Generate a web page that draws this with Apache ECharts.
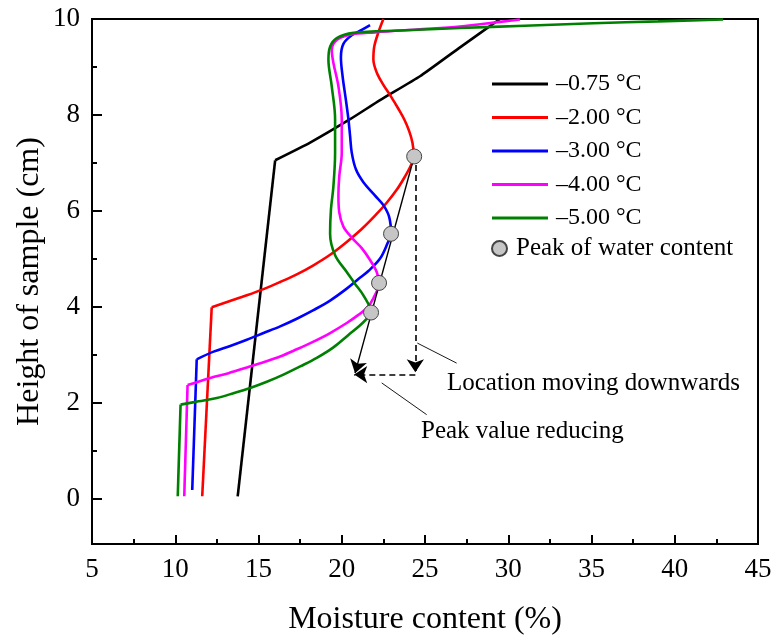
<!DOCTYPE html>
<html>
<head>
<meta charset="utf-8">
<script src="https://cdn.jsdelivr.net/npm/echarts@6/dist/echarts.min.js"></script>
<style>html,body{margin:0;padding:0;background:#fff}#c{width:778px;height:641px}</style>
</head>
<body>
<div id="c"></div>
<script>
// ---- data ----
const seriesNames = ['\u20130.75 \u00B0C', '\u20132.00 \u00B0C', '\u20133.00 \u00B0C', '\u20134.00 \u00B0C', '\u20135.00 \u00B0C'];
const peakName = 'Peak of water content';
// [moisture %, height cm]
const t075 = [[13.75,0],[16.0,7.04],[18.1,7.41],[20.5,7.9],[22.3,8.3],[24.7,8.8],[27.0,9.38],[29.5,10]];
const t200 = [[11.62,0],[12.19,3.96],[13.2,4.08],[14.3,4.21],[15.3,4.34],[16.3,4.49],[17.3,4.65],[18.3,4.84],[19.3,5.06],[20.3,5.33],[21.2,5.6],[22.0,5.88],[22.7,6.15],[23.3,6.42],[23.8,6.7],[24.15,6.93],[24.33,7.12],[24.25,7.4],[24.05,7.65],[23.75,7.9],[23.4,8.12],[22.95,8.38],[22.5,8.62],[22.1,8.88],[21.9,9.15],[21.95,9.42],[22.2,9.72],[22.5,10]];
const t300 = [[11.02,0.13],[11.29,2.87],[12.3,3.03],[13.3,3.15],[14.3,3.28],[15.3,3.42],[16.3,3.56],[17.3,3.72],[18.3,3.9],[19.3,4.1],[20.3,4.35],[21.0,4.55],[21.6,4.72],[22.3,4.98],[22.75,5.3],[22.96,5.5],[22.85,5.85],[22.5,6.1],[22.0,6.3],[21.3,6.58],[20.85,6.85],[20.6,7.2],[20.5,7.55],[20.4,7.9],[20.25,8.3],[20.05,8.8],[19.95,9.2],[20.1,9.48],[20.6,9.66],[21.2,9.77],[21.7,9.87]];
const t400 = [[10.54,0],[10.74,2.33],[12.1,2.48],[13.2,2.58],[14.3,2.7],[15.3,2.81],[16.3,2.93],[17.3,3.08],[18.3,3.24],[19.3,3.42],[20.3,3.63],[21.0,3.8],[21.5,3.94],[21.9,4.15],[22.24,4.47],[22.1,4.7],[21.7,4.95],[21.2,5.2],[20.6,5.42],[20.1,5.65],[19.85,5.95],[19.8,6.3],[19.85,6.7],[20.0,7.2],[20.0,7.9],[19.8,8.59],[19.5,9.08],[19.4,9.35],[19.7,9.56],[20.5,9.67],[22.0,9.72],[24.5,9.78],[27.1,9.84],[29.5,9.94],[30.7,9.99]];
const t500 = [[10.15,0],[10.32,1.92],[11.4,1.99],[12.5,2.06],[13.5,2.16],[14.5,2.27],[15.5,2.4],[16.5,2.55],[17.5,2.72],[18.5,2.9],[19.5,3.12],[20.4,3.38],[21.0,3.55],[21.45,3.7],[21.76,3.85],[21.3,4.21],[20.8,4.45],[20.3,4.7],[19.6,5.05],[19.3,5.5],[19.35,6.0],[19.5,6.5],[19.6,7.2],[19.6,7.9],[19.4,8.59],[19.2,9.15],[19.3,9.42],[19.7,9.6],[20.7,9.71],[23.5,9.76],[27.1,9.81],[31.0,9.86],[35.1,9.91],[39.0,9.95],[42.9,9.99]];
const peaks = [[24.35,7.12],[22.96,5.5],[22.24,4.47],[21.76,3.85]];
// annotation geometry in data units
const trendArrow = [[24.35,7.12],[20.8,2.58]];
const downArrow = [[24.42,6.94],[24.42,2.6]];
const leftArrow = [[24.42,2.55],[20.75,2.55]];
const leader1 = [[24.54,3.21],[26.9,2.79]];
const leader2 = [[22.4,2.375],[25.1,1.71]];
const xTick = {min:5, max:45, step:5};
const yTick = {min:0, max:10, step:2};
const yRange = {min:-1, max:10};
const annoText1 = 'Location moving downwards';
const annoText2 = 'Peak value reducing';
const xTitle = 'Moisture content (%)';
const yTitle = 'Height of sample (cm)';

const FONT = 'Liberation Serif';
const colors = ['#000000','#ff0000','#0000ff','#ff00ff','#008000'];
const lineData = [t075,t200,t300,t400,t500];

const chart = echarts.init(document.getElementById('c'), null, {renderer:'canvas'});

const series = [];
lineData.forEach((d,i)=>{
  series.push({
    type:'line', name: '_stem'+i, data:d.slice(0,2), xAxisIndex:0, yAxisIndex:0,
    symbol:'none', showSymbol:false, smooth:false,
    lineStyle:{color:colors[i], width:2.6}, itemStyle:{color:colors[i]},
    z:3, silent:true
  });
  series.push({
    type:'line', name: seriesNames[i], data:d.slice(1), xAxisIndex:0, yAxisIndex:0,
    symbol:'none', showSymbol:false, smooth: i === 0 ? 0.15 : 0.35,
    lineStyle:{color:colors[i], width:2.6}, itemStyle:{color:colors[i]},
    z:3, silent:true
  });
});

const markSegs = [
  {p:trendArrow, dashed:false, arrow:true, w:1.4},
  {p:downArrow, dashed:true, arrow:true, w:1.6},
  {p:leftArrow, dashed:true, arrow:true, w:1.6},
  {p:leader1, dashed:false, arrow:false, w:0.9},
  {p:leader2, dashed:false, arrow:false, w:0.9}
];
markSegs.forEach((m)=>{
  series.push({
    type:'lines', coordinateSystem:'cartesian2d', xAxisIndex:0, yAxisIndex:0,
    silent:true, z:4,
    symbol: m.arrow ? ['none','arrow'] : ['none','none'],
    symbolSize: [9,13],
    lineStyle:{color:'#000', width:m.w, type: m.dashed ? [6,4] : 'solid', opacity:1},
    data:[{coords:m.p}]
  });
});

series.push({
  type:'scatter', name: peakName, data: peaks, xAxisIndex:0, yAxisIndex:0,
  symbol:'circle', symbolSize:15, z:5, silent:true,
  itemStyle:{color:'#c6c6c6', borderColor:'#444', borderWidth:1, opacity:1}
});

const lineIcon = 'path://M0 0H56V3H0Z';

const option = {
  animation:false,
  backgroundColor:'#ffffff',
  grid:[
    {left:92, top:19, width:666, height:528, show:true, borderColor:'#000', borderWidth:2, backgroundColor:'transparent'},
    {left:92, top:19, width:666, height:480, show:false}
  ],
  xAxis:[
    {type:'value', gridIndex:0, min:xTick.min, max:xTick.max, interval:xTick.step,
     axisLine:{show:true, onZero:false, lineStyle:{color:'#000', width:2}},
     axisTick:{show:true, inside:true, length:9, lineStyle:{color:'#000', width:2}},
     minorTick:{show:true, splitNumber:2, length:5, lineStyle:{color:'#000', width:2}},
     splitLine:{show:false}, minorSplitLine:{show:false},
     axisLabel:{color:'#000', fontFamily:FONT, fontSize:27, margin:12},
     name:xTitle, nameLocation:'middle', nameGap:60,
     nameTextStyle:{color:'#000', fontFamily:FONT, fontSize:32}},
    {type:'value', gridIndex:1, min:xTick.min, max:xTick.max, show:false}
  ],
  yAxis:[
    {type:'value', gridIndex:0, min:yRange.min, max:yRange.max,
     axisLine:{show:true, onZero:false, lineStyle:{color:'#000', width:2}},
     axisTick:{show:false}, axisLabel:{show:false}, splitLine:{show:false},
     name:yTitle, nameLocation:'middle', nameGap:46,
     nameTextStyle:{color:'#000', fontFamily:FONT, fontSize:32}},
    {type:'value', gridIndex:1, min:yTick.min, max:yTick.max, interval:yTick.step,
     axisLine:{show:false},
     axisTick:{show:true, inside:true, length:10, lineStyle:{color:'#000', width:2}},
     minorTick:{show:true, splitNumber:2, length:5, lineStyle:{color:'#000', width:2}},
     splitLine:{show:false}, minorSplitLine:{show:false},
     axisLabel:{color:'#000', fontFamily:FONT, fontSize:27, margin:12}}
  ],
  legend:[
    {data:seriesNames.map(n=>({name:n, icon:lineIcon})), orient:'vertical', left:487, top:67,
     itemWidth:56, itemHeight:14, itemGap:9.5, symbolKeepAspect:true,
     selectedMode:false,
     textStyle:{color:'#000', fontFamily:FONT, fontSize:24, padding:[0,0,0,3]}},
    {data:[{name:peakName, icon:'circle'}], orient:'vertical', left:486, top:231, itemWidth:15, itemHeight:15,
     selectedMode:false,
     textStyle:{color:'#000', fontFamily:FONT, fontSize:25, padding:[0,0,0,4]}}
  ],
  graphic:[
    {type:'text', left:447, top:371, silent:true,
     style:{text:annoText1, fill:'#000', font:'25px "Liberation Serif"'}},
    {type:'text', left:421, top:419, silent:true,
     style:{text:annoText2, fill:'#000', font:'25px "Liberation Serif"'}}
  ],
  series: series
};
chart.setOption(option);
</script>
</body>
</html>
